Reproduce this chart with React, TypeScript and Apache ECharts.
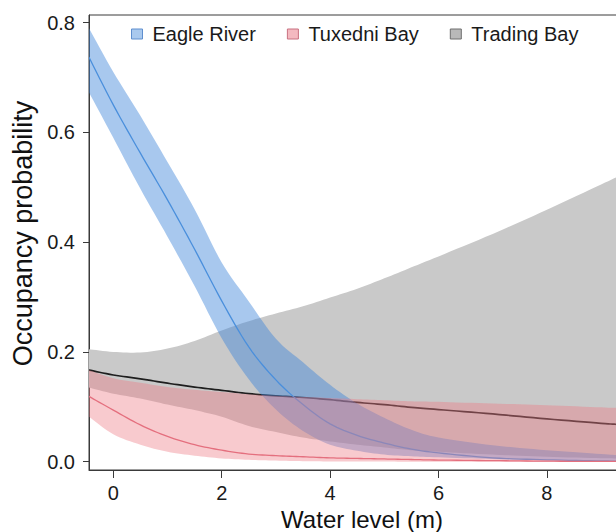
import React, { useEffect, useRef } from "react";
import * as echarts from "echarts";

// Water level (m) at which the curves were read
const waterLevel = [-0.45, 0, 0.5, 1, 1.5, 2, 2.5, 3, 3.5, 4, 4.5, 5, 5.5, 6, 7, 8, 9, 9.3];

// Eagle River
const eagleMean = [0.737, 0.65, 0.562, 0.477, 0.387, 0.293, 0.209, 0.149, 0.104, 0.069, 0.048, 0.034, 0.023, 0.016, 0.007, 0.0035, 0.0015, 0.001];
const eagleUpper = [0.79, 0.71, 0.63, 0.546, 0.46, 0.363, 0.292, 0.224, 0.181, 0.14, 0.106, 0.08, 0.058, 0.044, 0.03, 0.021, 0.014, 0.012];
const eagleLower = [0.673, 0.59, 0.497, 0.41, 0.32, 0.225, 0.15, 0.095, 0.056, 0.031, 0.02, 0.013, 0.01, 0.008, 0.005, 0.003, 0.001, 0.001];

// Tuxedni Bay
const tuxedniMean = [0.119, 0.094, 0.067, 0.046, 0.031, 0.021, 0.014, 0.011, 0.009, 0.007, 0.006, 0.005, 0.004, 0.003, 0.002, 0.001, 0.0006, 0.0005];
const tuxedniUpper = [0.167, 0.152, 0.144, 0.136, 0.131, 0.127, 0.123, 0.12, 0.118, 0.116, 0.114, 0.112, 0.11, 0.109, 0.106, 0.103, 0.099, 0.098];
const tuxedniLower = [0.082, 0.05, 0.031, 0.018, 0.011, 0.006, 0.0035, 0.002, 0.001, 0.0005, 0.0003, 0.0002, 0.0001, 0, 0, 0, 0, 0];

// Trading Bay
const tradingMean = [0.167, 0.158, 0.151, 0.143, 0.136, 0.13, 0.124, 0.12, 0.117, 0.113, 0.108, 0.104, 0.099, 0.095, 0.087, 0.078, 0.07, 0.068];
const tradingUpper = [0.205, 0.2, 0.199, 0.206, 0.22, 0.239, 0.256, 0.27, 0.283, 0.299, 0.315, 0.334, 0.354, 0.374, 0.415, 0.459, 0.505, 0.519];
const tradingLower = [0.135, 0.124, 0.115, 0.104, 0.094, 0.082, 0.065, 0.054, 0.044, 0.037, 0.031, 0.026, 0.021, 0.018, 0.013, 0.009, 0.0065, 0.006];

const siteNames = ["Eagle River", "Tuxedni Bay", "Trading Bay"];
const xTicks = [0, 2, 4, 6, 8];
const yTicks = [0, 0.2, 0.4, 0.6, 0.8];

const FONT = "'Liberation Sans', Arial, Helvetica, sans-serif";

// Catmull-Rom smoothing of already-projected pixel points (rendering only)
function smoothPixels(pts: number[][], steps = 8): number[][] {
  const out: number[][] = [];
  const n = pts.length;
  for (let i = 0; i < n - 1; i++) {
    const p0 = pts[Math.max(0, i - 1)];
    const p1 = pts[i];
    const p2 = pts[i + 1];
    const p3 = pts[Math.min(n - 1, i + 2)];
    for (let s = 0; s < steps; s++) {
      const t = s / steps;
      const t2 = t * t;
      const t3 = t2 * t;
      const f = (a: number, b: number, c: number, d: number) =>
        0.5 * (2 * b + (-a + c) * t + (2 * a - 5 * b + 4 * c - d) * t2 + (-a + 3 * b - 3 * c + d) * t3);
      out.push([f(p0[0], p1[0], p2[0], p3[0]), f(p0[1], p1[1], p2[1], p3[1])]);
    }
  }
  out.push(pts[n - 1]);
  return out;
}

function bandSeries(name: string, lower: number[], upper: number[], fill: string, legendColor: string) {
  return {
    type: "custom",
    name,
    data: waterLevel.map((x, i) => [x, lower[i], upper[i]]),
    encode: { x: 0, y: [1, 2] },
    itemStyle: { color: legendColor },
    silent: true,
    clip: true,
    renderItem: (params: any, api: any) => {
      if (params.dataIndex !== 0) return null;
      const up = smoothPixels(waterLevel.map((x, i) => api.coord([x, upper[i]])));
      const lo = smoothPixels(waterLevel.map((x, i) => api.coord([x, lower[i]])));
      const pts = up.concat(lo.reverse());
      return { type: "polygon", shape: { points: pts }, style: { fill, stroke: null } };
    },
  };
}

function lineSeries(name: string, values: number[], color: string, width: number) {
  return {
    type: "custom",
    name,
    data: waterLevel.map((x, i) => [x, values[i]]),
    encode: { x: 0, y: 1 },
    silent: true,
    clip: true,
    renderItem: (params: any, api: any) => {
      if (params.dataIndex !== 0) return null;
      const pts = smoothPixels(waterLevel.map((x, i) => api.coord([x, values[i]])));
      return {
        type: "polyline",
        shape: { points: pts },
        style: { stroke: color, lineWidth: width, fill: null },
      };
    },
  };
}

export default function App() {
  const ref = useRef<HTMLDivElement>(null);
  useEffect(() => {
    if (!ref.current) return;
    const chart = echarts.init(ref.current, null, { renderer: "svg" });
    chart.setOption({
      animation: false,
      textStyle: { fontFamily: FONT },
      grid: {
        left: 89,
        top: 15,
        right: -1,
        bottom: 62,
        show: true,
        borderColor: "#3a3a3a",
        borderWidth: 1,
        backgroundColor: "transparent",
        outerBoundsMode: "none",
      },
      legend: {
        top: 19,
        left: 126,
        itemWidth: 11,
        itemHeight: 10,
        itemGap: 31,
        icon: "rect",
        selectedMode: false,
        textStyle: { fontSize: 20, color: "#1a1a1a", fontFamily: FONT, padding: [0, 0, 0, 5] },
        data: [
          { name: siteNames[0], itemStyle: { color: "#a9c9ee", borderColor: "#5f8fcf", borderWidth: 1 } },
          { name: siteNames[1], itemStyle: { color: "#f4b9c0", borderColor: "#c87080", borderWidth: 1 } },
          { name: siteNames[2], itemStyle: { color: "#b9b9b9", borderColor: "#6e6e6e", borderWidth: 1 } },
        ],
      },
      xAxis: {
        type: "value",
        min: -0.448,
        max: 9.293,
        splitLine: { show: false },
        axisLine: { show: true, onZero: false, lineStyle: { color: "#3a3a3a", width: 1 } },
        axisTick: { show: true, length: 8, customValues: xTicks, lineStyle: { color: "#3a3a3a" } },
        axisLabel: { customValues: xTicks, fontSize: 20, color: "#1a1a1a", margin: 13, fontFamily: FONT },
        name: "Water level (m)",
        nameLocation: "middle",
        nameGap: 31,
        nameTextStyle: { fontSize: 24, lineHeight: 24, color: "#111", fontFamily: FONT, padding: [0, 0, 0, 18] },
      },
      yAxis: {
        type: "value",
        min: -0.0151,
        max: 0.8137,
        splitLine: { show: false },
        axisLine: { show: true, onZero: false, lineStyle: { color: "#3a3a3a", width: 1 } },
        axisTick: { show: true, length: 6, customValues: yTicks, lineStyle: { color: "#3a3a3a" } },
        axisLabel: {
          customValues: yTicks,
          fontSize: 20,
          color: "#1a1a1a",
          margin: 14,
          fontFamily: FONT,
          formatter: (v: number) => v.toFixed(1),
        },
        name: "Occupancy probability",
        nameLocation: "middle",
        nameGap: 53,
        nameTextStyle: { fontSize: 27, color: "#111", fontFamily: FONT, padding: [0, 0, 0, 18] },
      },
      series: [
        bandSeries(siteNames[2], tradingLower, tradingUpper, "#c9c9c9", "#b9b9b9"),
        lineSeries("Trading Bay mean", tradingMean, "#1e1e1e", 1.7),
        bandSeries(siteNames[0], eagleLower, eagleUpper, "rgba(62,133,217,0.45)", "#a9c9ee"),
        lineSeries("Eagle River mean", eagleMean, "#4a8fdc", 1.3),
        bandSeries(siteNames[1], tuxedniLower, tuxedniUpper, "rgba(238,123,133,0.4)", "#f4b9c0"),
        lineSeries("Tuxedni Bay mean", tuxedniMean, "#e46f7e", 1.3),
      ],
    });
    return () => chart.dispose();
  }, []);
  return (
    <div
      ref={ref}
      style={{ position: "absolute", left: 0, top: 0, width: 616, height: 532, background: "#fff" }}
    />
  );
}
